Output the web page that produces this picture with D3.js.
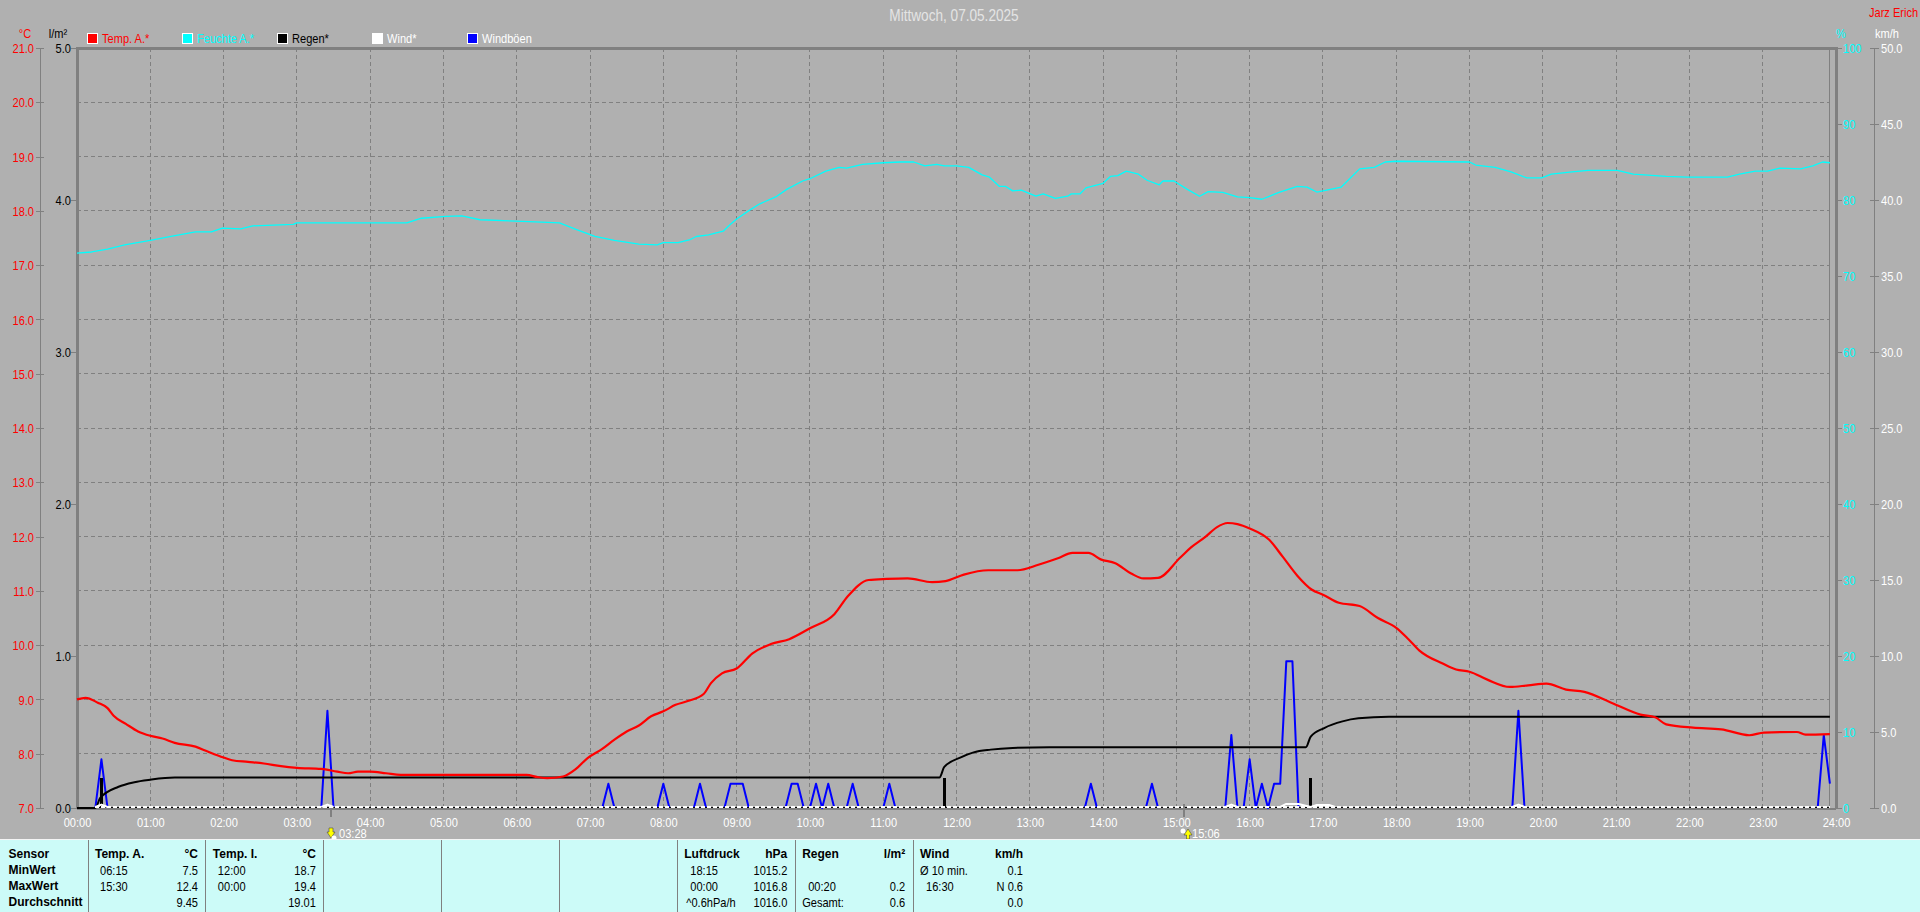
<!DOCTYPE html>
<html><head><meta charset="utf-8">
<script src="https://cdnjs.cloudflare.com/ajax/libs/d3/7.8.5/d3.min.js"></script>
<style>
html,body{margin:0;padding:0;background:#b0b0b0;overflow:hidden}
svg{display:block}
text{font-family:"Liberation Sans",Arial,sans-serif;font-size:13px}
.b{font-weight:bold;font-size:12px}
</style></head><body><svg id="c" width="1920" height="912"></svg>
<script>
const tempTimes=["0:00","0:07","0:17","0:25","0:30","0:40","0:50","1:00","1:10","1:20","1:37","1:47","2:00","2:07","2:20","2:33","2:47","3:00","3:20","3:33","3:42","3:50","4:00","4:13","4:25","5:00","6:08","6:17","6:25","6:38","6:48","6:58","7:10","7:20","7:30","7:40","7:50","8:00","8:10","8:20","8:33","8:39","8:48","9:00","9:13","9:28","9:43","10:00","10:20","10:31","10:48","11:03","11:20","11:40","11:51","12:06","12:26","12:50","13:07","13:23","13:35","13:48","13:58","14:10","14:23","14:33","14:45","15:03","15:12","15:24","15:33","15:42","15:50","16:00","16:16","16:27","16:39","16:51","17:00","17:13","17:30","17:45","18:00","18:10","18:19","18:38","18:49","19:00","19:15","19:33","19:48","20:03","20:19","20:34","20:57","21:20","21:32","21:41","22:03","22:26","22:49","23:01","23:28","23:35","23:55"];
const tempValues=[9.0,9.03,8.94,8.84,8.70,8.55,8.41,8.33,8.28,8.20,8.13,8.04,7.93,7.88,7.85,7.82,7.77,7.74,7.72,7.67,7.64,7.67,7.67,7.64,7.61,7.61,7.61,7.57,7.55,7.58,7.71,7.92,8.09,8.26,8.41,8.52,8.69,8.78,8.90,8.97,9.10,9.30,9.48,9.57,9.85,10.02,10.11,10.31,10.57,10.90,11.20,11.22,11.23,11.16,11.18,11.30,11.38,11.38,11.48,11.60,11.70,11.70,11.58,11.51,11.32,11.23,11.24,11.61,11.80,12.0,12.17,12.25,12.23,12.15,11.94,11.63,11.28,11.02,10.93,10.78,10.72,10.5,10.32,10.11,9.90,9.66,9.55,9.51,9.36,9.23,9.26,9.29,9.18,9.14,8.93,8.72,8.67,8.54,8.48,8.45,8.34,8.39,8.40,8.35,8.36];
const humTimes=["0:00","0:12","0:25","0:39","1:00","1:17","1:37","1:50","1:59","2:14","2:24","2:57","3:00","4:30","4:42","5:02","5:15","5:30","6:10","6:35","6:49","7:04","7:20","7:40","7:55","8:00","8:12","8:22","8:27","8:37","8:49","8:55","9:00","9:10","9:19","9:32","9:41","9:54","10:00","10:13","10:24","10:30","10:43","11:00","11:14","11:25","11:34","11:44","11:50","12:00","12:10","12:21","12:27","12:35","12:40","12:46","12:53","13:05","13:11","13:21","13:31","13:34","13:41","13:46","14:00","14:06","14:12","14:19","14:29","14:36","14:46","14:49","14:58","15:09","15:19","15:26","15:38","15:50","16:00","16:10","16:24","16:39","16:47","16:55","17:00","17:15","17:30","17:42","17:51","18:00","19:00","19:05","19:21","19:34","19:47","19:59","20:07","20:24","20:37","21:01","21:14","21:41","21:58","22:31","22:41","22:54","23:04","23:14","23:31","23:41","23:49","23:55"];
const humValues=[73.0,73.16,73.55,74.1,74.7,75.2,75.8,75.8,76.3,76.2,76.6,76.8,77.0,77.0,77.6,77.85,77.9,77.4,77.15,77.0,76.1,75.2,74.7,74.2,74.1,74.4,74.4,74.8,75.2,75.4,75.9,76.8,77.5,78.6,79.5,80.4,81.4,82.5,82.8,83.8,84.3,84.2,84.7,84.9,85.0,85.0,84.5,84.7,84.5,84.5,84.3,83.3,83.0,81.8,81.8,81.2,81.3,80.5,80.8,80.2,80.5,80.8,80.8,81.6,82.2,83.1,83.2,83.8,83.4,82.6,82.0,82.5,82.5,81.4,80.5,81.1,81.0,80.4,80.3,80.1,81.0,81.8,81.7,81.05,81.2,81.7,84.1,84.3,85.0,85.1,85.0,84.6,84.3,83.7,82.9,82.9,83.4,83.7,83.9,83.9,83.4,83.1,83.0,83.0,83.4,83.8,83.8,84.2,84.1,84.5,85.0,84.9];
const rainTimes=["0:00","0:15","0:19","0:34","0:47","1:00","1:20","11:46","11:50","12:04","12:14","12:28","12:46","13:16","16:46","16:50","17:01","17:16","17:29","17:54","23:55"];
const rainValues=[0,0,0.066,0.14,0.17,0.186,0.2,0.2,0.27,0.335,0.366,0.384,0.395,0.4,0.4,0.47,0.526,0.57,0.59,0.6,0.6];
const rainBarTimes=["0:20","11:50","16:50"];
const rainBarValues=[0.2,0.2,0.2];
const gustTimes=["0:15","0:20","0:25","3:20","3:25","3:30","7:10","7:15","7:20","7:55","8:00","8:05","8:25","8:30","8:35","8:50","8:55","9:00","9:05","9:10","9:40","9:45","9:50","9:55","10:00","10:05","10:10","10:15","10:20","10:30","10:35","10:40","11:00","11:05","11:10","13:45","13:50","13:55","14:35","14:40","14:45","15:40","15:45","15:50","15:55","16:00","16:05","16:10","16:15","16:20","16:25","16:30","16:35","16:40","19:35","19:40","19:45","23:45","23:50","23:55"];
const gustValues=[0,3.2,0,0,6.4,0,0,1.6,0,0,1.6,0,0,1.6,0,0,1.6,1.6,1.6,0,0,1.6,1.6,0,0,1.6,0,1.6,0,0,1.6,0,0,1.6,0,0,1.6,0,0,1.6,0,0,4.8,0,0,3.2,0,1.6,0,1.6,1.6,9.66,9.66,0,0,6.4,0,0,4.8,1.6];
const windTimes=["0:15","0:20","0:25","3:20","3:25","3:30","15:40","15:45","15:50","16:25","16:30","16:40","16:50","16:55","17:05","17:10","19:35","19:40","19:45","23:55"];
const windValues=[0,0.16,0,0,0.16,0,0,0.16,0,0,0.2,0.2,0,0.13,0.13,0,0,0.16,0,0];
const hourTicks=d3.range(0,25);
const tempTicks=d3.range(7,22);
const rainTicks=[0,1,2,3,4,5];
const humTicks=d3.range(0,101,10);
const kmhTicks=d3.range(0,51,5);
const sunTimes=["03:28","15:06"];
const legendLabels=["Temp. A.*","Feuchte A.*","Regen*","Wind*","Windböen"];
const legendColors=["#ff0000","#00ffff","#000000","#ffffff","#0000ff"];
const legendText=["#ff0000","#00ffff","#000000","#ffffff","#ffffff"];
const tableHeads=[["Temp. A.","°C"],["Temp. I.","°C"],null,null,null,["Luftdruck","hPa"],["Regen","l/m²"],["Wind","km/h"]];
const rowLabels=["Sensor","MinWert","MaxWert","Durchschnitt"];
const tableRows=[
 [["06:15","7.5"],["15:30","12.4"],["","9.45"]],
 [["12:00","18.7"],["00:00","19.4"],["","19.01"]],
 null,null,null,
 [["18:15","1015.2"],["00:00","1016.8"],["^0.6hPa/h","1016.0"]],
 [["",""],["00:20","0.2"],["Gesamt:","0.6"]],
 [["Ø 10 min.","0.1"],["16:30","N 0.6"],["","0.0"]]
];

const mins=s=>{const p=s.split(":");return +p[0]*60+ +p[1];};
const GREY="#808080",L=77,R=1836,T=48,B=808;
const svg=d3.select("#c");
const x=d3.scaleLinear().domain([0,1440]).range([L,R]);
const yT=d3.scaleLinear().domain([7,21]).range([B,T]);
const yR=d3.scaleLinear().domain([0,5]).range([B,T]);
const yH=d3.scaleLinear().domain([0,100]).range([B,T]);
const yW=d3.scaleLinear().domain([0,50]).range([B,T]);

// grid
const grid=svg.append("g").attr("stroke",GREY).attr("stroke-width",1).attr("stroke-dasharray","4 3").attr("shape-rendering","crispEdges");
grid.selectAll(".v").data(hourTicks.slice(1,24)).join("line").attr("x1",d=>x(d*60)).attr("x2",d=>x(d*60)).attr("y1",T).attr("y2",B);
grid.selectAll(".h").data(tempTicks.slice(1,14)).join("line").attr("x1",L).attr("x2",x(1435)).attr("y1",d=>yT(d)).attr("y2",d=>yT(d));

function styleAxis(g,color,x1,x2,tx,anchor){
  g.select(".domain").attr("stroke",GREY).attr("stroke-width",1).attr("shape-rendering","crispEdges");
  g.selectAll(".tick line").attr("stroke",GREY).attr("x1",x1).attr("x2",x2).attr("shape-rendering","crispEdges");
  g.selectAll(".tick text").attr("fill",color).attr("x",tx).attr("text-anchor",anchor).attr("dy","0.36em");
  g.attr("font-family",null).attr("font-size",null);
}
svg.append("g").attr("transform","translate(40,0)")
  .call(d3.axisLeft(yT).tickValues(tempTicks).tickFormat(d3.format(".1f")).tickSizeOuter(0))
  .call(g=>styleAxis(g,"#ff0000",-4,4,-6,"end"));
svg.append("g").attr("transform",`translate(${L},0)`)
  .call(d3.axisLeft(yR).tickValues(rainTicks).tickFormat(d3.format(".1f")).tickSizeOuter(0))
  .call(g=>styleAxis(g,"#000000",-6,0,-6,"end"));
svg.append("g").attr("transform",`translate(${R},0)`)
  .call(d3.axisRight(yH).tickValues(humTicks).tickFormat(d3.format("d")).tickSizeOuter(0))
  .call(g=>styleAxis(g,"#00ffff",2,6,7,"start"));
svg.append("g").attr("transform","translate(1874,0)")
  .call(d3.axisRight(yW).tickValues(kmhTicks).tickFormat(d3.format(".1f")).tickSizeOuter(0))
  .call(g=>styleAxis(g,"#ffffff",-4,5,7,"start"));
svg.append("g").attr("transform",`translate(0,${B+14})`)
  .call(d3.axisBottom(x).tickValues(hourTicks.map(h=>h*60)).tickFormat(d=>d3.format("02d")(d/60)+":00").tickSize(0))
  .call(g=>{g.select(".domain").remove();g.selectAll("text").attr("fill","#ffffff").attr("y",0).attr("dy","0.36em");g.attr("font-family",null).attr("font-size",null);});

// frame
const frame=svg.append("g").attr("stroke",GREY).attr("shape-rendering","crispEdges");
frame.append("line").attr("x1",L-1).attr("x2",R+2).attr("y1",T).attr("y2",T).attr("stroke-width",3);
frame.append("line").attr("x1",L).attr("x2",L).attr("y1",T).attr("y2",B+1).attr("stroke-width",3);
frame.append("line").attr("x1",R).attr("x2",R).attr("y1",T).attr("y2",B+1).attr("stroke-width",3);
frame.append("line").attr("x1",x(1435)).attr("x2",x(1435)).attr("y1",T).attr("y2",B+1).attr("stroke-width",1);
frame.append("line").attr("x1",L).attr("x2",R).attr("y1",B+1).attr("y2",B+1).attr("stroke-width",2);

const series=(ts,vs)=>ts.map((t,i)=>({m:mins(t),v:vs[i]}));
const lineOf=(y,c)=>d3.line().curve(c||d3.curveLinear).x(d=>x(d.m)).y(d=>y(d.v));
const path=(data,y,color,w,c)=>svg.append("path").datum(data).attr("fill","none").attr("stroke",color).attr("stroke-width",w).attr("stroke-linejoin","round").attr("d",lineOf(y,c)(data));
// split a spike series where two consecutive samples lie at zero
const runs=data=>{const out=[];let cur=[];data.forEach(d=>{if(cur.length&&d.v===0&&cur[cur.length-1].v===0){out.push(cur);cur=[];}cur.push(d);});out.push(cur);return out;};

// series
path(series(humTimes,humValues),yH,"#00ffff",1.3);
runs(series(gustTimes,gustValues)).forEach(s=>path(s,yW,"#0000ff",2));
svg.selectAll(".rb").data(series(rainBarTimes,rainBarValues)).join("line").attr("stroke","#000").attr("stroke-width",3).attr("shape-rendering","crispEdges")
  .attr("x1",d=>x(d.m)).attr("x2",d=>x(d.m)).attr("y1",d=>yR(0)).attr("y2",d=>yR(d.v));
path(series(rainTimes,rainValues),yR,"#000000",2,d3.curveMonotoneX);
// zero baseline: black underlay, white wind line dashed over it, bumps solid
const wd=series(windTimes,windValues);
svg.append("line").attr("x1",x(wd[0].m)).attr("x2",x(wd[wd.length-1].m)).attr("y1",B-1).attr("y2",B-1).attr("stroke","#000").attr("shape-rendering","crispEdges");
svg.append("line").attr("x1",x(wd[0].m)).attr("x2",x(wd[wd.length-1].m)).attr("y1",B-1).attr("y2",B-1).attr("stroke","#fff").attr("stroke-width",1.6).attr("stroke-dasharray","4 2").attr("shape-rendering","crispEdges");
runs(wd).filter(s=>s.some(d=>d.v>0)).forEach(s=>path(s,yW,"#ffffff",2).attr("transform","translate(0,-1)"));
path(series(tempTimes,tempValues),yT,"#ff0000",2.2,d3.curveMonotoneX);

// headings
svg.append("text").attr("x",954).attr("y",15).attr("dy","0.36em").attr("text-anchor","middle").attr("fill","#e4e4e4").style("font-size","16px").text("Mittwoch, 07.05.2025");
svg.append("text").attr("x",1869).attr("y",12).attr("dy","0.36em").attr("fill","#ff0000").text("Jarz Erich");
[["°C",25,"#ff0000"],["l/m²",58,"#000"],["%",1841,"#00ffff"],["km/h",1887,"#fff"]].forEach(u=>{
  svg.append("text").attr("x",u[1]).attr("y",33).attr("dy","0.36em").attr("text-anchor","middle").attr("fill",u[2]).text(u[0]);
});

// legend
const legX=d3.scalePoint().domain(legendLabels).range([87,467]);
const leg=svg.selectAll(".leg").data(legendLabels).join("g").attr("transform",d=>`translate(${legX(d)},33)`);
leg.append("rect").attr("width",10).attr("height",10).attr("fill",(d,i)=>legendColors[i]).attr("stroke","#fff").attr("stroke-width",1).attr("shape-rendering","crispEdges");
leg.append("text").attr("x",15).attr("y",5).attr("dy","0.36em").attr("fill",(d,i)=>legendText[i]).text(d=>d);

// sun events
const sunG=svg.selectAll(".sun").data(sunTimes).join("g").attr("transform",d=>`translate(${Math.round(x(mins(d)))},0)`);
sunG.append("line").attr("y1",(d,i)=>i?804:808).attr("y2",817).attr("stroke",GREY).attr("stroke-width",2).attr("shape-rendering","crispEdges");
sunG.append("path").attr("fill","#ffff00").attr("stroke","#333").attr("stroke-width",0.5)
  .attr("d",(d,i)=>i?"M4,829 L8,835 L5.5,835 L5.5,839 L2.5,839 L2.5,835 L0,835 Z":"M-2,828 L2,828 L2,832 L4,832 L0,838 L-4,832 L-2,832 Z");
sunG.append("circle").attr("cx",(d,i)=>i?-1:3).attr("cy",(d,i)=>i?831:838).attr("r",2.5).attr("fill","#fff");
sunG.append("text").attr("x",8).attr("y",833).attr("dy","0.36em").attr("fill","#fff").text(d=>d);

// table
svg.append("rect").attr("x",0).attr("y",839).attr("width",1920).attr("height",73).attr("fill","#ccfbf8");
svg.append("line").attr("x1",0).attr("x2",1920).attr("y1",839).attr("y2",839).attr("stroke","#f4f4f4").attr("shape-rendering","crispEdges");
const colX=d3.scaleLinear().domain([0,7]).range([88,913]);
const panel=svg.append("g");
panel.selectAll("line").data(d3.range(8)).join("line").attr("x1",colX).attr("x2",colX).attr("y1",840).attr("y2",912).attr("stroke",GREY).attr("stroke-width",1).attr("shape-rendering","crispEdges");
const rowY=d3.scaleLinear().domain([0,3]).range([854,902]);
panel.selectAll(".rl").data(rowLabels).join("text").attr("class","b").attr("x",8.5).attr("y",(d,i)=>rowY(i)).attr("dy","0.36em").attr("fill","#000").text(d=>d);
const timeIndent=[5,5,0,0,0,6,6,6];
tableHeads.forEach((h,c)=>{
  if(!h) return;
  const x0=colX(c)+7, xr=colX(c)+110;
  panel.append("text").attr("class","b").attr("x",x0).attr("y",rowY(0)).attr("dy","0.36em").attr("fill","#000").text(h[0]);
  panel.append("text").attr("class","b").attr("x",xr).attr("y",rowY(0)).attr("dy","0.36em").attr("text-anchor","end").attr("fill","#000").text(h[1]);
  tableRows[c].forEach((r,i)=>{
    const isTime=/^\d/.test(r[0]);
    panel.append("text").attr("x",x0+(isTime?timeIndent[c]:(r[0][0]==="^"?2:0))).attr("y",rowY(i+1)).attr("dy","0.36em").attr("fill","#000").text(r[0]);
    panel.append("text").attr("x",xr).attr("y",rowY(i+1)).attr("dy","0.36em").attr("text-anchor","end").attr("fill","#000").text(r[1]);
  });
});
// the reference uses a narrow bitmap face: condense all regular text horizontally
svg.selectAll("text").filter(function(){return !this.classList.contains("b")&&this.textContent;}).each(function(){
  const w=this.getComputedTextLength();
  this.setAttribute("textLength",(w*0.85).toFixed(1));
  this.setAttribute("lengthAdjust","spacingAndGlyphs");
});
</script></body></html>
